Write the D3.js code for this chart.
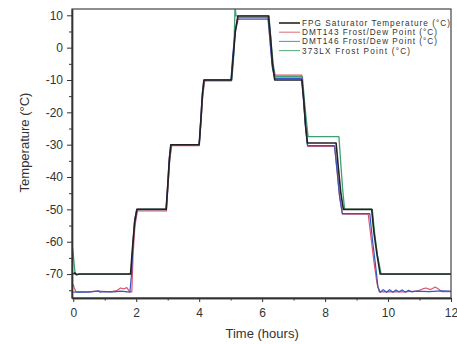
<!DOCTYPE html>
<html><head><meta charset="utf-8">
<script src="https://cdn.jsdelivr.net/npm/d3@7"></script>
<style>
html,body{margin:0;padding:0;background:#fff;}
svg{display:block;font-family:"Liberation Sans",Arial,sans-serif;}
</style></head>
<body><svg id="c" width="457" height="344"></svg>
<script>
// ---- data ----
const xTicks = [0, 2, 4, 6, 8, 10, 12];
const xTickLabels = ["0", "2", "4", "6", "8", "10", "12"];
const yTicks = [-70, -60, -50, -40, -30, -20, -10, 0, 10];
const yTickLabels = ["-70", "-60", "-50", "-40", "-30", "-20", "-10", "0", "10"];
const seriesNames = ["FPG Saturator Temperature (°C)", "DMT143 Frost/Dew Point (°C)", "DMT146 Frost/Dew Point (°C)", "373LX  Frost Point (°C)"];

const fpgTime = [0, 0.05, 0.1, 0.2, 1.82, 1.88, 1.95, 2.02, 2.95, 3.0, 3.05, 3.1, 4.0, 4.05, 4.1, 4.15, 5.02, 5.08, 5.15, 5.23, 6.2, 6.27, 6.33, 6.4, 7.26, 7.32, 7.38, 7.44, 8.35, 8.42, 8.5, 8.58, 9.48, 9.55, 9.65, 9.75, 12];
const fpgValue = [-70, -69.6, -70.2, -70, -70, -62, -54, -50, -50, -43, -35, -30, -30, -23, -15, -10, -10, -3, 5, 9.8, 9.8, 3, -5, -10, -10, -16, -24, -29.5, -29.5, -37, -45, -50, -50, -57, -64, -70, -70];

const dmt143Time = [0, 0.03, 0.08, 0.15, 0.4, 0.8, 1.2, 1.4, 1.5, 1.6, 1.7, 1.8, 1.86, 1.9, 1.96, 2.04, 2.96, 3.01, 3.06, 3.12, 4.0, 4.06, 4.11, 4.17, 5.02, 5.08, 5.15, 5.25, 6.18, 6.25, 6.32, 6.4, 7.26, 7.32, 7.38, 7.45, 8.3, 8.38, 8.46, 8.55, 9.37, 9.45, 9.55, 9.65, 9.72, 10.0, 10.5, 10.9, 11.1, 11.2, 11.35, 11.5, 11.6, 11.7, 12];
const dmt143Value = [-73.2, -74.2, -75.3, -75.6, -75.5, -75.3, -75.5, -75.0, -74.3, -74.6, -74.2, -75.5, -75.5, -64, -55, -50.5, -50.5, -43, -35, -30.3, -30.3, -23, -15, -10.3, -10.3, -3, 5, 9.3, 9.3, 2, -5, -8.5, -8.5, -16, -24, -30.5, -30.5, -38, -46, -51.5, -51.5, -58, -66, -73, -75.5, -75.4, -75.5, -75.3, -74.6, -74.3, -74.8, -74.0, -74.6, -75.4, -75.4];

const dmt146Time = [0, 0.2, 0.5, 0.8, 0.85, 1.0, 1.3, 1.5, 1.8, 1.85, 1.9, 1.95, 2.02, 2.95, 3.0, 3.05, 3.1, 4.0, 4.05, 4.1, 4.15, 5.01, 5.07, 5.14, 5.22, 6.2, 6.26, 6.32, 6.4, 7.26, 7.32, 7.38, 7.44, 8.3, 8.38, 8.46, 8.55, 9.42, 9.5, 9.6, 9.68, 9.75, 9.85, 9.95, 10.05, 10.15, 10.25, 10.35, 10.45, 10.55, 10.65, 10.75, 10.9, 11.3, 11.7, 12];
const dmt146Value = [-75.6, -75.5, -75.6, -75.2, -75.6, -75.4, -75.5, -75.3, -75.6, -70, -60, -53, -50, -50, -42, -34, -30, -30, -22, -14, -10, -10, -2, 5, 8.8, 8.8, 1, -6, -9.5, -9.5, -17, -25, -30.3, -30.3, -38, -46, -51.3, -51.3, -59, -67, -74, -75.6, -74.8, -75.6, -74.8, -75.6, -74.9, -75.5, -74.9, -75.6, -75.0, -75.5, -75.3, -75.4, -75.2, -75.3];

const lx373Time = [-0.02, 0.02, 0.06, 0.3, 1.84, 1.9, 1.97, 2.04, 2.96, 3.01, 3.07, 3.13, 4.0, 4.06, 4.12, 4.18, 5.04, 5.1, 5.14, 5.17, 5.22, 6.22, 6.28, 6.35, 6.42, 7.28, 7.34, 7.4, 7.46, 8.44, 8.5, 8.56, 8.62, 9.5, 9.57, 9.66, 9.78, 12];
const lx373Value = [-62, -66, -70, -70, -70, -61, -53, -50, -50, -42, -34, -30, -30, -22, -14, -10, -10, -2, 13, 9.8, 9.8, 9.8, 2, -5, -9, -9, -16, -22, -27.5, -27.5, -36, -44, -50, -50, -57, -64, -70, -70];

const seriesTimes = [fpgTime, dmt143Time, dmt146Time, lx373Time];
const seriesValues = [fpgValue, dmt143Value, dmt146Value, lx373Value];
const seriesColors = ["#222222", "#d9566e", "#3656c0", "#3fa070"];
const legendColors = ["#222222", "#e07a8a", "#6f8fd0", "#5fb08a"];
const seriesWidths = [1.6, 1.2, 1.2, 1.3];
const drawOrder = [3, 1, 2, 0];

// ---- layout ----
const svg = d3.select("#c");
const L = 72, R = 451, T = 9, B = 298;
const x = d3.scaleLinear().domain([-0.04, 12]).range([L, R]);
const y = d3.scaleLinear().domain([-77.4, 11.95]).range([B, T]);

svg.append("defs").append("clipPath").attr("id", "clip")
  .append("rect").attr("x", L).attr("y", T).attr("width", R - L).attr("height", B - T);

// series
const line = d3.line().x(d => x(d[0])).y(d => y(d[1]));
const plot = svg.append("g").attr("clip-path", "url(#clip)");
drawOrder.forEach(i => {
  const pts = seriesTimes[i].map((t, k) => [t, seriesValues[i][k]]);
  plot.append("path").attr("d", line(pts)).attr("fill", "none")
    .attr("stroke", seriesColors[i]).attr("stroke-width", seriesWidths[i])
    .attr("stroke-linejoin", "round");
});

// frame
svg.append("rect").attr("x", L).attr("y", T).attr("width", R - L).attr("height", B - T)
  .attr("fill", "none").attr("stroke", "#444").attr("stroke-width", 1.2);

// axes
const axisColor = "#333";
const xAxis = svg.append("g").attr("transform", `translate(0,${B})`)
  .call(d3.axisBottom(x).tickValues(xTicks).tickFormat((d, i) => xTickLabels[i]).tickSize(4).tickSizeOuter(0).tickPadding(6));
const xMinor = svg.append("g").attr("transform", `translate(0,${B})`)
  .call(d3.axisBottom(x).tickValues([1, 3, 5, 7, 9, 11]).tickFormat("").tickSize(2.5).tickSizeOuter(0));
const yAxis = svg.append("g").attr("transform", `translate(${L},0)`)
  .call(d3.axisLeft(y).tickValues(yTicks).tickFormat((d, i) => yTickLabels[i]).tickSize(5).tickSizeOuter(0).tickPadding(4));
const yMinor = svg.append("g").attr("transform", `translate(${L},0)`)
  .call(d3.axisLeft(y).tickValues([-75, -65, -55, -45, -35, -25, -15, -5, 5]).tickFormat("").tickSize(3).tickSizeOuter(0));
[xAxis, xMinor, yAxis, yMinor].forEach(g => {
  g.select(".domain").attr("stroke", axisColor).attr("stroke-width", 1.4);
  g.selectAll(".tick line").attr("stroke", axisColor).attr("stroke-width", 1);
  g.selectAll("text").attr("fill", "#333").attr("font-size", 12)
    .attr("font-family", "'Liberation Sans', Arial, sans-serif");
});

// axis titles
svg.append("text").attr("x", (x(0) + x(12)) / 2).attr("y", 338).attr("text-anchor", "middle")
  .attr("font-size", 13).attr("fill", "#333").text("Time (hours)");
svg.append("text").attr("transform", `translate(29,${(T + B) / 2 - 11}) rotate(-90)`)
  .attr("text-anchor", "middle").attr("font-size", 13).attr("fill", "#333").text("Temperature (°C)");

// legend
const legendTextWidths = [148, 135, 135, 108];
const lg = svg.append("g");
seriesNames.forEach((name, i) => {
  const yy = 23 + i * 9.2;
  lg.append("line").attr("x1", 279).attr("x2", 300).attr("y1", yy).attr("y2", yy)
    .attr("stroke", legendColors[i]).attr("stroke-width", i === 0 ? 1.6 : 1.1);
  lg.append("text").attr("x", 302).attr("y", yy + 2.9).attr("font-size", 8.2).attr("fill", "#333")
    .attr("textLength", legendTextWidths[i]).attr("lengthAdjust", "spacing")
    .text(name);
});
</script></body></html>
